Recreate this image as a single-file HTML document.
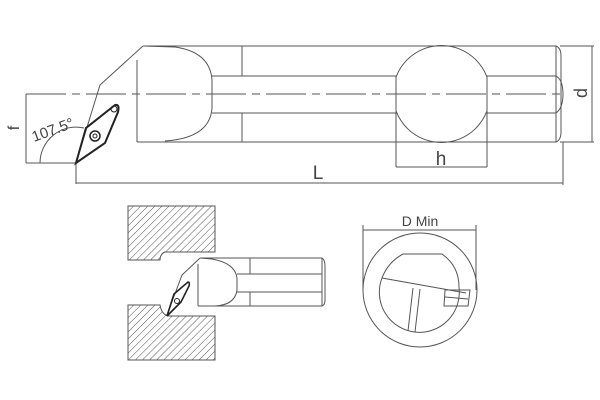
<!DOCTYPE html>
<html><head><style>body{margin:0;background:#fff}svg{display:block}</style></head><body>
<svg width="600" height="400" viewBox="0 0 600 400" xmlns="http://www.w3.org/2000/svg" font-family="Liberation Sans, sans-serif">
<defs>
<pattern id="h" width="5" height="5" patternUnits="userSpaceOnUse" patternTransform="rotate(45)">
<line x1="0" y1="0" x2="0" y2="5" stroke="#555" stroke-width="1"/>
</pattern>
<clipPath id="cc"><rect x="396" y="40" width="91" height="110"/></clipPath>
</defs>
<g fill="none" stroke="#555" stroke-width="1">
<path d="M143,46 L556,46 Q561,48 561,56 L561,132 Q561,140 556,142 L137,142"/>
<line x1="556" y1="46" x2="556" y2="142"/>
<path d="M143,46 L100,85 L76,163"/>
<line x1="137" y1="60" x2="137" y2="142"/>
<path d="M143,46 L175,47 Q210,52 212,80 L212,108 Q210,138 165,141"/>
<line x1="242" y1="46" x2="242" y2="76"/><line x1="242" y1="113" x2="242" y2="142"/>
<line x1="212" y1="76" x2="396" y2="76"/><line x1="212" y1="113" x2="396" y2="113"/>
<line x1="487" y1="76" x2="556" y2="76"/><line x1="487" y1="113" x2="556" y2="113"/>
<path d="M556,76 Q563,80 563,94 Q563,108 556,113"/>
<circle cx="441.5" cy="94" r="48.5" clip-path="url(#cc)"/>
<line x1="396" y1="76" x2="396" y2="167"/><line x1="487" y1="76" x2="487" y2="167"/>
<line x1="396" y1="167" x2="487" y2="167"/>
<line x1="26" y1="94" x2="560" y2="94" stroke-dasharray="40,6,8,6"/>
<line x1="560" y1="46" x2="594" y2="46"/><line x1="560" y1="142" x2="594" y2="142"/>
<line x1="592" y1="46" x2="592" y2="142"/>
<line x1="76" y1="163" x2="76" y2="184"/><line x1="563" y1="142" x2="563" y2="185"/>
<line x1="76" y1="183" x2="563" y2="183"/>
<line x1="26" y1="94" x2="26" y2="163"/><line x1="26" y1="163" x2="76" y2="163"/>
<path d="M40,163 A36,36 0 0 1 84,128"/>
</g>
<path d="M76,163 L86,128 L115,105 Q120,104 118,112 L105,143 Z" fill="none" stroke="#222" stroke-width="2"/>
<circle cx="95" cy="136" r="5" fill="none" stroke="#222" stroke-width="1.5"/>
<circle cx="95" cy="136" r="2" fill="none" stroke="#222" stroke-width="1"/>
<circle cx="114" cy="109" r="3" fill="none" stroke="#222" stroke-width="1"/>
<text x="318" y="179" font-size="19" fill="#444" text-anchor="middle">L</text>
<text x="441" y="165" font-size="19" fill="#444" text-anchor="middle">h</text>
<text x="0" y="0" font-size="18" fill="#444" transform="translate(587,93) rotate(-90)" text-anchor="middle">d</text>
<text x="0" y="0" font-size="16" fill="#444" transform="translate(19,128) rotate(-90)" text-anchor="middle">f</text>
<text x="0" y="0" font-size="15" fill="#444" transform="translate(34,142) rotate(-20)">107.5°</text>
<g stroke="#555" stroke-width="1" fill="url(#h)">
<path d="M128,206 L215,206 L215,252 L165,252 Q160,254 160,260 L128,260 Z"/>
<path d="M128,305 L160,305 Q162,316 170,316 L215,316 L215,360 L128,360 Z"/>
</g>
<g fill="none" stroke="#555" stroke-width="1">
<path d="M200,258 L322,258 Q325,260 325,266 L325,300 Q325,305 322,306 L198,306"/>
<line x1="322" y1="258" x2="322" y2="306"/>
<path d="M200,258 L182,275 L167,315"/>
<line x1="198" y1="264" x2="198" y2="306"/>
<path d="M200,258 L212,259 Q235,263 237,278 L237,290 Q235,305 215,306"/>
<line x1="237" y1="274" x2="322" y2="274"/><line x1="237" y1="292" x2="322" y2="292"/>
<line x1="250" y1="258" x2="250" y2="274"/><line x1="250" y1="292" x2="250" y2="306"/>
</g>
<path d="M167,316 L174,294 L188,282 Q190,282 189,286 L181,302 Z" fill="none" stroke="#222" stroke-width="1.6"/>
<circle cx="177" cy="301" r="2.5" fill="none" stroke="#222"/>
<g fill="none" stroke="#555" stroke-width="1">
<circle cx="420" cy="290" r="57"/>
<line x1="363" y1="225" x2="363" y2="290"/><line x1="476" y1="225" x2="476" y2="290"/>
<line x1="363" y1="230" x2="476" y2="230"/>
<path d="M403,254 L442,254 Q459,266 459,287 A40,40 0 1 1 382,278 Q388,262 403,254"/>
<line x1="382" y1="278" x2="466" y2="293"/>
<path d="M445,290 L470,290 L468,306 L444,306 Z"/>
<line x1="445" y1="297" x2="468" y2="299"/>
<line x1="413" y1="288" x2="408" y2="331"/><line x1="420" y1="289" x2="415" y2="332"/>
</g>
<text x="420" y="226" font-size="14" fill="#444" text-anchor="middle">D Min</text>
</svg>
</body></html>
